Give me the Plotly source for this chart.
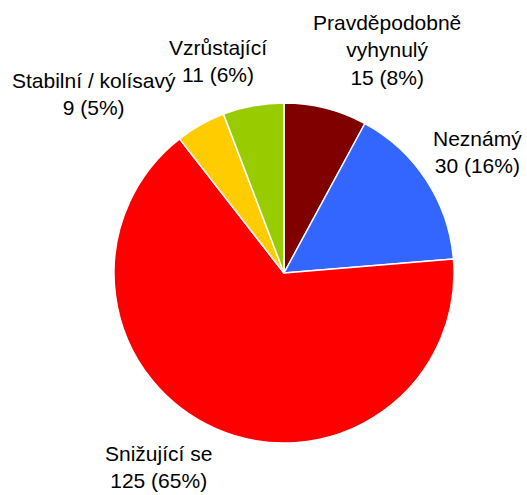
import plotly.graph_objects as go

kategorie = ["Pravděpodobně<br>vyhynulý", "Neznámý", "Snižující se", "Stabilní / kolísavý", "Vzrůstající"]
pocty = [15, 30, 125, 9, 11]
procenta = ["8%", "16%", "65%", "5%", "6%"]
barvy = ["#800000", "#3366ff", "#ff0000", "#ffcc00", "#99cc00"]

# label block centres (px) - placed by hand to match the original layout
pozice = [(387, 50), (477, 152), (158, 467), (94, 94), (218, 61)]

W, H = 527, 495

fig = go.Figure()
fig.add_trace(go.Pie(
    labels=kategorie, values=pocty,
    sort=False, direction="clockwise", rotation=0,
    marker=dict(colors=barvy, line=dict(color="white", width=1.5)),
    textinfo="none", hoverinfo="label+value",
    domain=dict(x=[114 / W, 454 / W], y=[1 - 443 / H, 1 - 103 / H]),
    showlegend=False,
))

for kat, n, p, (px, py) in zip(kategorie, pocty, procenta, pozice):
    fig.add_annotation(
        x=px / W, y=1 - py / H, xref="paper", yref="paper",
        text=f"{kat}<br>{n} ({p})", showarrow=False,
        xanchor="center", yanchor="middle", align="center",
        font=dict(family="Liberation Sans, Arial, sans-serif", size=21, color="black"),
    )

fig.update_layout(
    width=W, height=H,
    margin=dict(l=0, r=0, t=0, b=0),
    paper_bgcolor="white", plot_bgcolor="white",
)
# page body has an 8px default margin, drop it so the figure sits at 0,0
fig.write_html("out.html", config={"displayModeBar": False},
               post_script="document.body.style.margin='0';")
